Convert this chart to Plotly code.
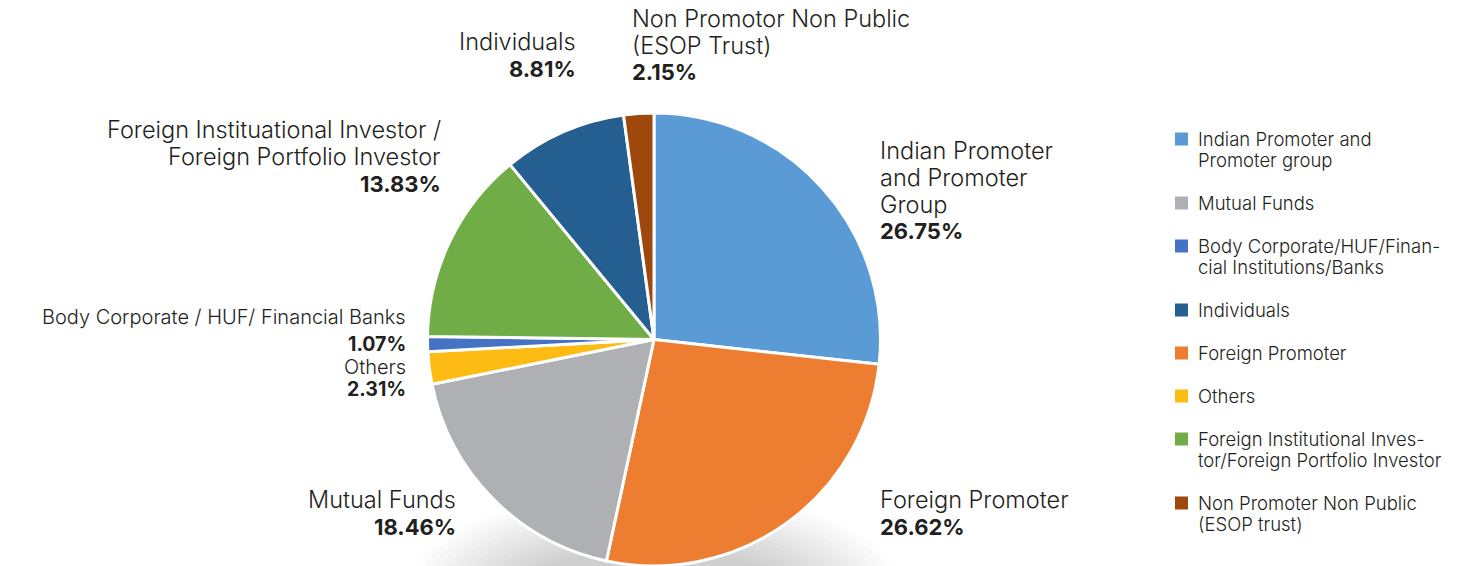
import plotly.graph_objects as go

# Shareholding pattern, clockwise from 12 o'clock
slice_labels = [
    "Indian Promoter and Promoter Group",
    "Foreign Promoter",
    "Mutual Funds",
    "Others",
    "Body Corporate / HUF/ Financial Banks",
    "Foreign Instituational Investor / Foreign Portfolio Investor",
    "Individuals",
    "Non Promotor Non Public (ESOP Trust)",
]
slice_values = [26.75, 26.62, 18.46, 2.31, 1.07, 13.83, 8.81, 2.15]
slice_colors = ["#5B9BD5", "#ED7D31", "#AFB0B3", "#FDBB14", "#4472C4",
                "#70AD47", "#255E91", "#9E480E"]

# Wrapped label lines used beside the pie
slice_label_lines = [
    ["Indian Promoter", "and Promoter", "Group"],
    ["Foreign Promoter"],
    ["Mutual Funds"],
    ["Others"],
    ["Body Corporate / HUF/ Financial Banks"],
    ["Foreign Instituational Investor /", "Foreign Portfolio Investor"],
    ["Individuals"],
    ["Non Promotor Non Public", "(ESOP Trust)"],
]

# Legend entries (own order, own wording)
legend_lines = [
    ["Indian Promoter and", "Promoter group"],
    ["Mutual Funds"],
    ["Body Corporate/HUF/Finan-", "cial Institutions/Banks"],
    ["Individuals"],
    ["Foreign Promoter"],
    ["Others"],
    ["Foreign Institutional Inves-", "tor/Foreign Portfolio Investor"],
    ["Non Promoter Non Public", "(ESOP trust)"],
]
legend_colors = ["#5B9BD5", "#AFB0B3", "#4472C4", "#255E91",
                 "#ED7D31", "#FDBB14", "#70AD47", "#9E480E"]

W, H = 1477, 566
FONT = "Inter"
TXT = "#231F20"


def px(x):
    return x / W


def py(y):
    return 1 - y / H


fig = go.Figure()
fig.add_trace(go.Pie(
    labels=slice_labels,
    values=slice_values,
    marker=dict(colors=slice_colors, line=dict(color="white", width=3)),
    sort=False,
    direction="clockwise",
    rotation=0,
    textinfo="none",
    hoverinfo="label+value",
    showlegend=False,
    domain=dict(x=[px(654 - 227), px(654 + 227)], y=[0, py(113)]),
))

annotations = []
shapes = []

# soft shadow under the pie: many faint stacked ellipses
n_layers = 16
for i in range(n_layers):
    t = i / (n_layers - 1)
    rx = 245 - 110 * t
    ry = 100 - 60 * t
    shapes.append(dict(
        type="circle", layer="below", xref="paper", yref="paper",
        x0=px(654 - rx), x1=px(654 + rx), y0=py(590 + ry), y1=py(590 - ry),
        fillcolor="rgba(120,120,120,0.018)", line=dict(width=0),
    ))


def add_text(text, x, y, xa, font):
    annotations.append(dict(
        text=text, x=px(x), y=py(y), xref="paper", yref="paper",
        xanchor=xa, yanchor="middle", align=xa, showarrow=False, font=font,
    ))


def name_font(size):
    return dict(family=FONT, size=size, color=TXT, weight=300)


def pct_font(size):
    return dict(family=FONT, size=size, color=TXT, weight=700)


# (anchor x, first line centre y, line pitch, xanchor, name size, pct size)
label_pos = [
    (878, 150, 27, "left", 23.5, 22),
    (878, 500, 27, "left", 23.5, 22),
    (458, 500, 27, "right", 23.5, 22),
    (408, 367, 22, "right", 20, 19.5),
    (408, 317, 27, "right", 20, 19.5),
    (443, 130, 27, "right", 23.5, 22),
    (578, 42, 27, "right", 23.5, 22),
    (630, 18, 27, "left", 23.5, 22),
]
for lines, val, (x, y0, pitch, xa, ns, ps) in zip(slice_label_lines, slice_values, label_pos):
    for k, line in enumerate(lines):
        add_text(line, x, y0 + k * pitch, xa, name_font(ns))
    add_text(f"{val:.2f}%", x, y0 + len(lines) * pitch, xa, pct_font(ps))

# legend: square swatch + text, spacing grows with line count
y_first = 139
for lines, col in zip(legend_lines, legend_colors):
    shapes.append(dict(
        type="rect", xref="paper", yref="paper",
        x0=px(1175), x1=px(1188), y0=py(y_first + 6.5), y1=py(y_first - 6.5),
        fillcolor=col, line=dict(width=0),
    ))
    for k, line in enumerate(lines):
        add_text(line, 1196, y_first + k * 21, "left", name_font(18.5))
    y_first += 43 + 21 * (len(lines) - 1)

fig.update_layout(
    width=W, height=H,
    margin=dict(l=0, r=0, t=0, b=0),
    paper_bgcolor="white", plot_bgcolor="white",
    annotations=annotations, shapes=shapes,
    showlegend=False,
)
fig.write_html("out.html")
